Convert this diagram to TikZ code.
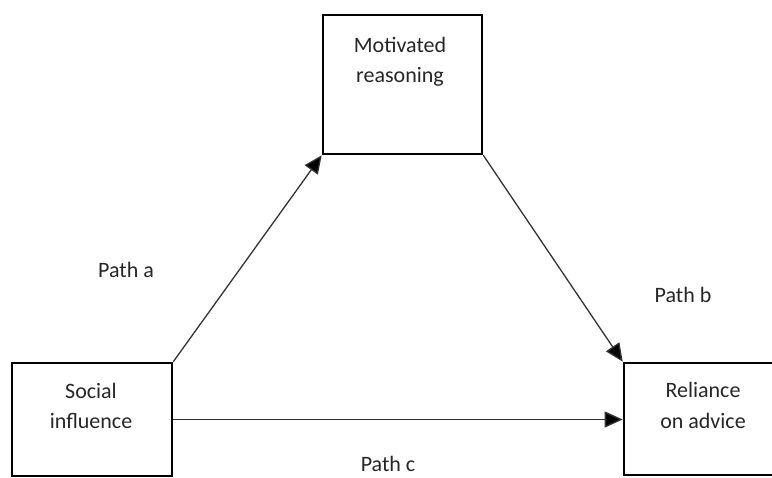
\documentclass[tikz,border=0pt]{standalone}
\usepackage{fontspec}
\setmainfont{Carlito}
\usetikzlibrary{arrows.meta}
\begin{document}
\begin{tikzpicture}[x=1pt,y=-1pt,
  box/.style={draw=black,line width=2.6pt,minimum width=#1,inner sep=0pt},
  txt/.style={anchor=base,inner sep=0pt,font=\fontsize{22}{26}\selectfont,text=black!85},
  conn/.style={line width=1.3pt,draw=black!80,-{Triangle[length=18pt,width=16pt,fill=black]}}]
\useasboundingbox (0,0) rectangle (772,478);
\begin{scope}
\clip (0,0) rectangle (772,478);
\node[box=159pt,minimum height=139pt] (mr) at (402.5,84.5) {};
\node[box=160pt,minimum height=113pt] (si) at (92,419.5) {};
\node[box=160pt,minimum height=112pt] (ra) at (704,419) {};
\end{scope}
\node[txt] (t1) at (400,53) {Motivated};
\node[txt] (t2) at (400,83) {reasoning};
\node[txt] (t3) at (91,399) {Social};
\node[txt] (t4) at (91,429) {influence};
\node[txt] (t5) at (703,398) {Reliance};
\node[txt] (t6) at (703,429) {on advice};
\node[txt] (pa) at (126,278) {Path a};
\node[txt] (pb) at (683,303) {Path b};
\node[txt] (pc) at (388,472) {Path c};
\draw[conn] (si.north east) -- (mr.south west);
\draw[conn] (mr.south east) -- (ra.north west);
\draw[conn] (si.east) -- (si.east -| ra.west);
\end{tikzpicture}
\end{document}
